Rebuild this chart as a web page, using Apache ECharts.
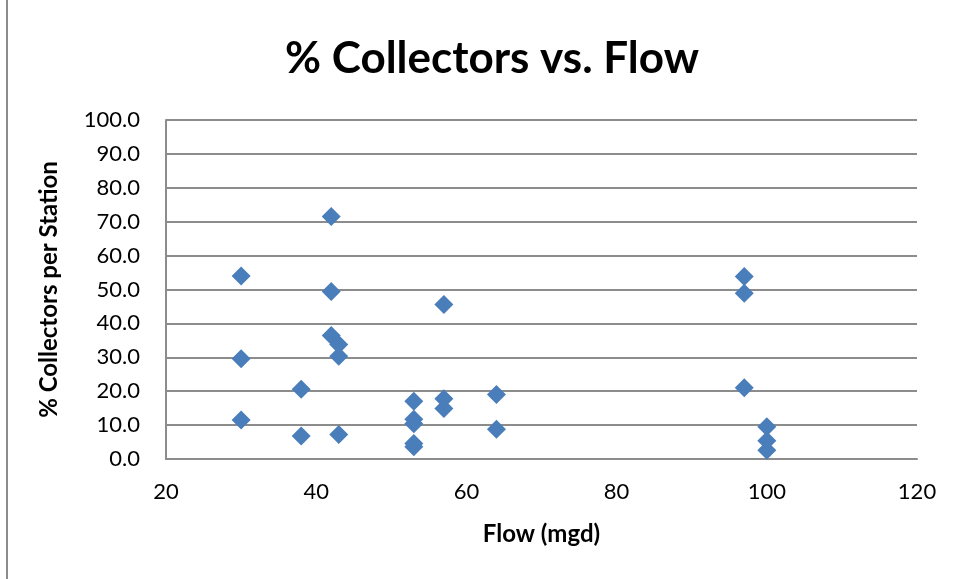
<!DOCTYPE html>
<html>
<head>
<meta charset="utf-8">
<script src="https://cdn.jsdelivr.net/npm/echarts@6/dist/echarts.min.js"></script>
<style>
html,body{margin:0;padding:0;background:#fff;}
#chart{width:956px;height:579px;}
</style>
</head>
<body>
<div id="chart"></div>
<script>
var flow = [30, 30, 30, 38, 38, 42, 42, 42, 43, 43, 43, 53, 53, 53, 53, 53, 57, 57, 57, 64, 64, 97, 97, 97, 100, 100, 100];
var pctCollectors = [54.0, 29.6, 11.5, 20.6, 6.8, 71.5, 49.4, 36.4, 33.8, 30.3, 7.2, 17.0, 11.7, 10.4, 4.6, 3.6, 45.6, 17.8, 14.9, 19.0, 8.8, 53.8, 48.9, 21.0, 9.5, 5.4, 2.6];
var xTicks = [20, 40, 60, 80, 100, 120];
var yTicks = [0, 10, 20, 30, 40, 50, 60, 70, 80, 90, 100];

var points = flow.map(function (f, i) { return [f, pctCollectors[i]]; });
var font = 'Lato, "Liberation Sans", sans-serif';
var gridColor = '#8c8c8c';

var chart = echarts.init(document.getElementById('chart'), null, {renderer: 'canvas'});
chart.setOption({
  animation: false,
  backgroundColor: '#ffffff',
  title: {
    text: '% Collectors vs. Flow',
    left: 487,
    top: 32,
    textAlign: 'center',
    textStyle: {fontFamily: font, fontSize: 44, fontWeight: 'bold', color: '#000'}
  },
  graphic: [{
    type: 'line',
    shape: {x1: 7, y1: 0, x2: 7, y2: 579},
    style: {stroke: gridColor, lineWidth: 2}
  }],
  grid: {left: 166, right: 39, top: 120, bottom: 120, containLabel: false},
  xAxis: {
    type: 'value',
    min: xTicks[0],
    max: xTicks[xTicks.length - 1],
    interval: 20,
    name: 'Flow (mgd)',
    nameLocation: 'middle',
    nameGap: 63,
    nameTextStyle: {fontFamily: font, fontSize: 24, fontWeight: 'bold', color: '#000'},
    axisLine: {show: true, lineStyle: {color: gridColor, width: 2}},
    axisTick: {show: false},
    splitLine: {show: false},
    axisLabel: {fontFamily: font, fontSize: 22, color: '#000', margin: 22}
  },
  yAxis: {
    type: 'value',
    min: yTicks[0],
    max: yTicks[yTicks.length - 1],
    interval: 10,
    name: '% Collectors per Station',
    nameLocation: 'middle',
    nameGap: 105,
    nameTextStyle: {fontFamily: font, fontSize: 24, fontWeight: 'bold', color: '#000'},
    axisLine: {show: true, lineStyle: {color: gridColor, width: 2}},
    axisTick: {show: false},
    splitLine: {show: true, lineStyle: {color: gridColor, width: 2}},
    axisLabel: {
      fontFamily: font, fontSize: 22, color: '#000', margin: 26,
      formatter: function (v) { return v.toFixed(1); }
    }
  },
  series: [{
    type: 'scatter',
    data: points,
    symbol: 'diamond',
    symbolSize: 19,
    itemStyle: {color: '#4a7ebb', opacity: 1}
  }]
});
</script>
</body>
</html>
